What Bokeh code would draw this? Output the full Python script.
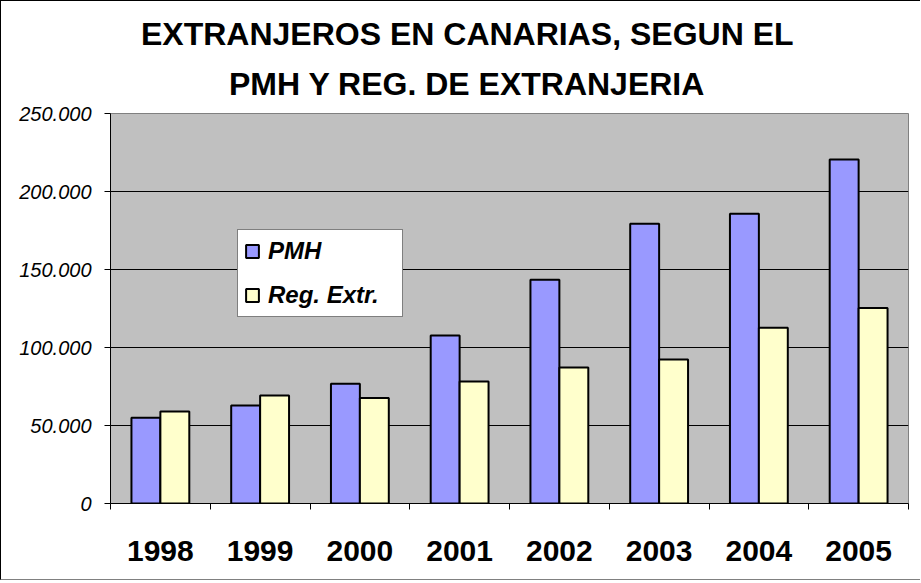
from bokeh.plotting import figure
from bokeh.models import (FactorRange, Range1d, LinearAxis, FixedTicker,
                          Legend, LegendItem, Title, ColumnDataSource)
from bokeh.transform import dodge
from bokeh.embed import file_html
from bokeh.resources import INLINE

# ---- data ----
years = ["1998", "1999", "2000", "2001", "2002", "2003", "2004", "2005"]
pmh = [55000, 62800, 76700, 107700, 143400, 179300, 185700, 220500]
reg_extr = [59000, 69200, 67700, 78200, 87200, 92300, 112600, 125400]
y_ticks = [0, 50000, 100000, 150000, 200000, 250000]
y_tick_labels = ["0", "50.000", "100.000", "150.000", "200.000", "250.000"]
series_names = ["PMH", "Reg. Extr."]
title_lines = ["EXTRANJEROS EN CANARIAS, SEGUN EL", "PMH Y REG. DE EXTRANJERIA"]

FONT = "Liberation Sans"

src = ColumnDataSource(dict(year=years, pmh=pmh, reg=reg_extr))

p = figure(width=920, height=580,
           x_range=FactorRange(factors=years, range_padding=0),
           y_range=Range1d(y_ticks[0], y_ticks[-1]),
           output_backend="svg", toolbar_location=None,
           x_axis_location=None, y_axis_location="left",
           min_border_left=109, min_border_right=13,
           min_border_top=112, min_border_bottom=78,
           background_fill_color="#C0C0C0", border_fill_color="white",
           outline_line_color="#808080", outline_line_width=1)

p.styles = {"border-left": "1px solid black", "border-top": "1px solid black",
            "border-bottom": "1px solid #808080"}

# x axis: labels at category centres, tick marks at category edges (minor ticks)
centres = [i + 0.5 for i in range(len(years))]
edges = list(range(len(years) + 1))
x_axis = LinearAxis(ticker=FixedTicker(ticks=centres, minor_ticks=edges),
                    major_tick_out=0, major_tick_in=0,
                    minor_tick_out=6, minor_tick_in=0,
                    minor_tick_line_color="black", major_tick_line_color=None,
                    axis_line_color="black",
                    major_label_overrides=dict(zip(centres, years)),
                    major_label_standoff=31,
                    major_label_text_font=FONT,
                    major_label_text_font_size="30px",
                    major_label_text_font_style="bold",
                    major_label_text_color="black")
p.add_layout(x_axis, "below")

# y axis
p.yaxis.ticker = FixedTicker(ticks=y_ticks)
p.yaxis.major_label_overrides = dict(zip(y_ticks, y_tick_labels))
p.yaxis.major_label_text_font = FONT
p.yaxis.major_label_text_font_size = "20px"
p.yaxis.major_label_text_font_style = "italic"
p.yaxis.major_label_text_color = "black"
p.yaxis.major_label_standoff = 13
p.yaxis.major_tick_out = 6
p.yaxis.major_tick_in = 0
p.yaxis.minor_tick_line_color = None
p.yaxis.axis_line_color = "black"
p.yaxis.major_tick_line_color = "black"

p.ygrid.ticker = FixedTicker(ticks=y_ticks[1:-1])
p.ygrid.grid_line_color = "black"
p.ygrid.grid_line_width = 1
p.xgrid.visible = False

r1 = p.vbar(x=dodge("year", -0.145, range=p.x_range), top="pmh", width=0.29,
            source=src, fill_color="#9999FF", line_color="black", line_width=2)
r2 = p.vbar(x=dodge("year", 0.145, range=p.x_range), top="reg", width=0.29,
            source=src, fill_color="#FFFFCC", line_color="black", line_width=2)

legend = Legend(items=[LegendItem(label=series_names[0], renderers=[r1]),
                       LegendItem(label=series_names[1], renderers=[r2])],
                location=(127, 186), orientation="vertical",
                border_line_color="black", border_line_width=1,
                background_fill_color="white", background_fill_alpha=1,
                padding=6, spacing=14, margin=0,
                label_text_font=FONT, label_text_font_style="bold italic",
                label_text_font_size="24px", label_text_color="black",
                glyph_width=16, glyph_height=16, label_height=30,
                label_width=128, label_standoff=8)
p.add_layout(legend)

# two-line title (second line nearest the plot)
p.add_layout(Title(text=title_lines[1], align="left", offset=118.5,
                   text_font=FONT, text_font_size="32px", text_font_style="bold",
                   text_color="black", standoff=24), "above")
p.add_layout(Title(text=title_lines[0], align="left", offset=30.5,
                   text_font=FONT, text_font_size="32px", text_font_style="bold",
                   text_color="black", standoff=0), "above")

open("out.html", "w").write(file_html(p, INLINE))
